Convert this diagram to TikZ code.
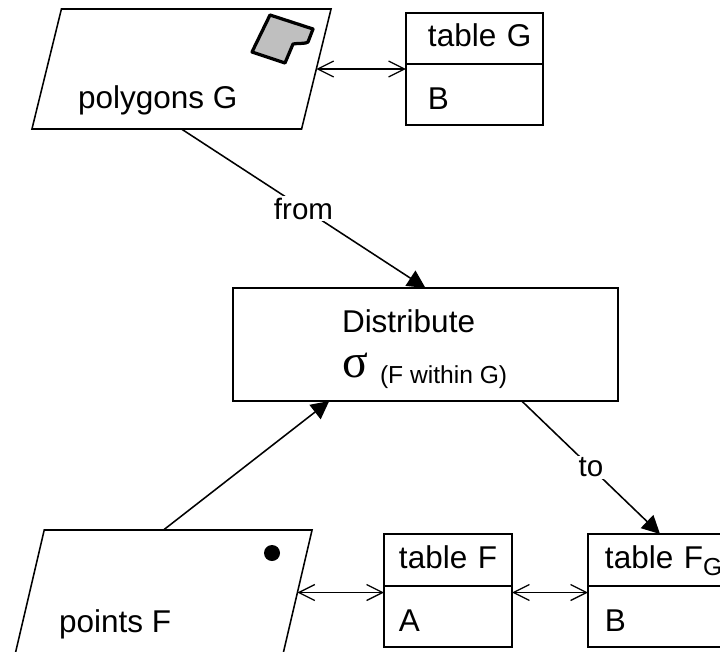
\documentclass[tikz,border=0pt]{standalone}
\usepackage{fontspec}
\setmainfont{Liberation Sans}
\newfontfamily\sigmafont{Liberation Serif}
\usetikzlibrary{arrows.meta,calc,positioning,shapes.geometric}

\begin{document}
\begin{tikzpicture}[
        x=.025cm, y=-.025cm,
        every path/.style={line width=1.1pt},
        every node/.style={outer sep=0pt, font=\fontsize{22.4}{26}\selectfont},
        layerbox/.style={draw, trapezium, trapezium stretches=true, trapezium left angle=83, trapezium right angle=97, inner sep=2pt},
        caption/.style={inner sep=0pt, anchor=base west},
        tabcell/.style 2 args={text width=#1, inner xsep=0pt, execute at begin node={\hspace*{#2}}},
        headcell/.style={draw, inner ysep=0pt, align=left, minimum height=1.3cm, text height=.4cm, text depth=0pt},
        bodycell/.style={draw, inner ysep=0pt, align=left, minimum height=1.525cm, text height=.75cm, text depth=0pt},
        edgelabel/.style={fill=white, inner sep=1pt, font=\fontsize{21}{25}\selectfont},
        flow/.style={-{Triangle[length=.45cm,width=.45cm]}},
        link/.style={{Straight Barb[length=.4cm,width=.4cm]}-{Straight Barb[length=.4cm,width=.4cm]}, line width=.9pt}
    ]
    \useasboundingbox (0,0) rectangle (720,651);

    % Layers
    \node[layerbox, minimum width=7.475cm, minimum height=3cm] (polyG) at (181.5,69) {};
    \node[caption] (polyGname) at (78,108) {polygons G};
    \node[layerbox, minimum width=7.425cm, minimum height=3.125cm] (ptsF) at (163.5,592.5) {};
    \node[caption] (ptsFname) at (59,632) {points F};

    % Symbols
    \draw[line width=2.3pt, fill=black!25, line join=round] (270,15) -- (313,29) -- (308,42)
        .. controls (306,44) and (298,43) .. (293,44) -- (285,63) -- (252,52) -- cycle;
    \fill (272,553) circle (8);

    % Tables
    \node[headcell, tabcell={3.425cm}{.55cm}, minimum height=1.275cm] (tabGhead) at (474.5,38.5) {table G};
    \node[bodycell, tabcell={3.425cm}{.55cm}] (tabGbody)[below=0pt of tabGhead] {B};
    \node[headcell, tabcell={3.2cm}{.375cm}] (tabFhead) at (448,560) {table F};
    \node[bodycell, tabcell={3.2cm}{.375cm}] (tabFbody)[below=0pt of tabFhead] {A};
    \node[headcell, tabcell={3.6cm}{.425cm}] (tabFGhead) at (660,560) {table F\raisebox{-5pt}{\fontsize{17.5}{20}\selectfont G}};
    \node[bodycell, tabcell={3.6cm}{.425cm}] (tabFGbody)[below=0pt of tabFGhead] {B};

    % Distribute
    \node[draw, minimum width=9.625cm, minimum height=2.825cm] (dist) at (425.5,344.5) {};
    \node[caption] (distname) at (342,332) {Distribute};
    \node[caption, font=\fontsize{34}{38}\sigmafont] (distsigma) at (342,377) {σ};
    \node[caption, font=\fontsize{17.5}{20}\selectfont] (distwithin) at (380,383) {(F within G)};

    % Edges
    \draw[flow] (polyG.south) -- node[edgelabel] {from} (dist.north);
    \draw[flow] (ptsF.north) -- ($(dist.south west)!.5!(dist.south)$);
    \draw[flow] ($(dist.south)!.5!(dist.south east)$) -- node[edgelabel] {to} (tabFGhead.north);
    \draw[link] (polyG.east) -- (polyG.east -| tabGhead.west);
    \draw[link] (ptsF.east) -- (ptsF.east -| tabFhead.west);
    \draw[link] (ptsF.east -| tabFhead.east) -- (ptsF.east -| tabFGhead.west);
\end{tikzpicture}
\end{document}
